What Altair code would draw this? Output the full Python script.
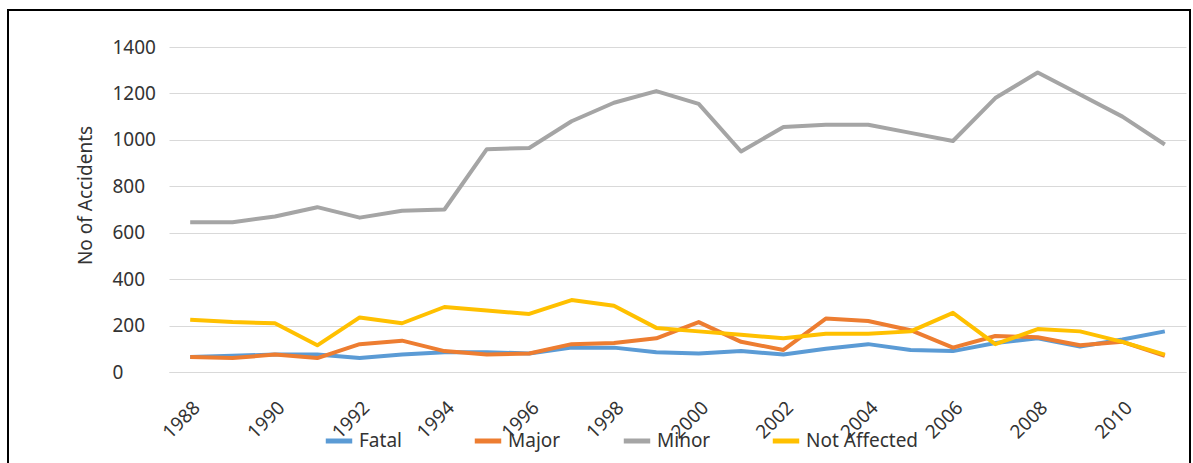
import altair as alt
import pandas as pd

years = list(range(1988, 2012))
fatal = [65, 70, 75, 75, 60, 75, 85, 85, 80, 105, 105, 85, 80, 90, 75, 100, 120, 95, 90, 125, 145, 110, 140, 175]
major = [65, 60, 75, 60, 120, 135, 90, 75, 80, 120, 125, 145, 215, 130, 95, 230, 220, 180, 105, 155, 150, 115, 130, 70]
minor = [645, 645, 670, 710, 665, 695, 700, 960, 965, 1080, 1160, 1210, 1155, 950, 1055, 1065, 1065, 1030, 995, 1180, 1290, 1195, 1100, 980]
not_affected = [225, 215, 210, 115, 235, 210, 280, 265, 250, 310, 285, 190, 175, 160, 145, 165, 165, 175, 255, 120, 185, 175, 130, 75]

series_names = ["Fatal", "Major", "Minor", "Not Affected"]
series_colors = ["#5B9BD5", "#ED7D31", "#A5A5A5", "#FFC000"]
label_years = [1988, 1990, 1992, 1994, 1996, 1998, 2000, 2002, 2004, 2006, 2008, 2010]
y_ticks = [0, 200, 400, 600, 800, 1000, 1200, 1400]

rows = []
for name, vals in zip(series_names, [fatal, major, minor, not_affected]):
    for yr, v in zip(years, vals):
        rows.append({"Year": yr, "Series": name, "Value": v, "order": series_names.index(name)})
df = pd.DataFrame(rows)

FONT = "Noto Sans"

lines = alt.Chart(df).mark_line(strokeWidth=4, strokeJoin="round").encode(
    x=alt.X("Year:O", scale=alt.Scale(type="point", padding=0.5),
            axis=alt.Axis(values=label_years, labelAngle=-45, title=None, ticks=False,
                          domainColor="#D9D9D9", labelFontSize=19, labelColor="#333333",
                          labelFont=FONT, labelPadding=26, grid=False)),
    y=alt.Y("Value:Q", scale=alt.Scale(domain=[0, 1400], nice=False),
            axis=alt.Axis(values=y_ticks, format="d", title="No of Accidents", domain=False, ticks=False,
                          gridColor="#D9D9D9", labelFontSize=19, labelColor="#333333",
                          labelFont=FONT, labelAlign="left", labelPadding=57,
                          titleFont=FONT, titleFontSize=19,
                          titleFontWeight="normal", titleColor="#333333",
                          titleX=-84, titleY=148, titleBaseline="middle", titleAlign="center", titleAngle=-90)),
    color=alt.Color("Series:N", scale=alt.Scale(domain=series_names, range=series_colors),
                    legend=alt.Legend(title=None, orient="none", direction="horizontal",
                                      legendX=154, legendY=378, symbolType="stroke",
                                      symbolStrokeWidth=5, symbolSize=700, labelFontSize=19,
                                      labelFont=FONT, labelColor="#333333", gridAlign="all",
                                      columnPadding=-18)),
    order=alt.Order("order:Q"),
    detail="Series:N",
)

border = alt.Chart(pd.DataFrame({"a": [0]})).mark_rect(fill=None, stroke="black", strokeWidth=2).encode(
    x=alt.value(-161), x2=alt.value(1021), y=alt.value(-37), y2=alt.value(430)
)

chart = alt.layer(lines, border).properties(
    width=1017, height=325,
    autosize=alt.AutoSizeParams(type="none"),
    padding={"left": 169, "top": 47, "right": 7, "bottom": 91},
    background="white",
).configure_view(stroke=None)

chart.save("out.html", embed_options={"renderer": "svg", "actions": False})
